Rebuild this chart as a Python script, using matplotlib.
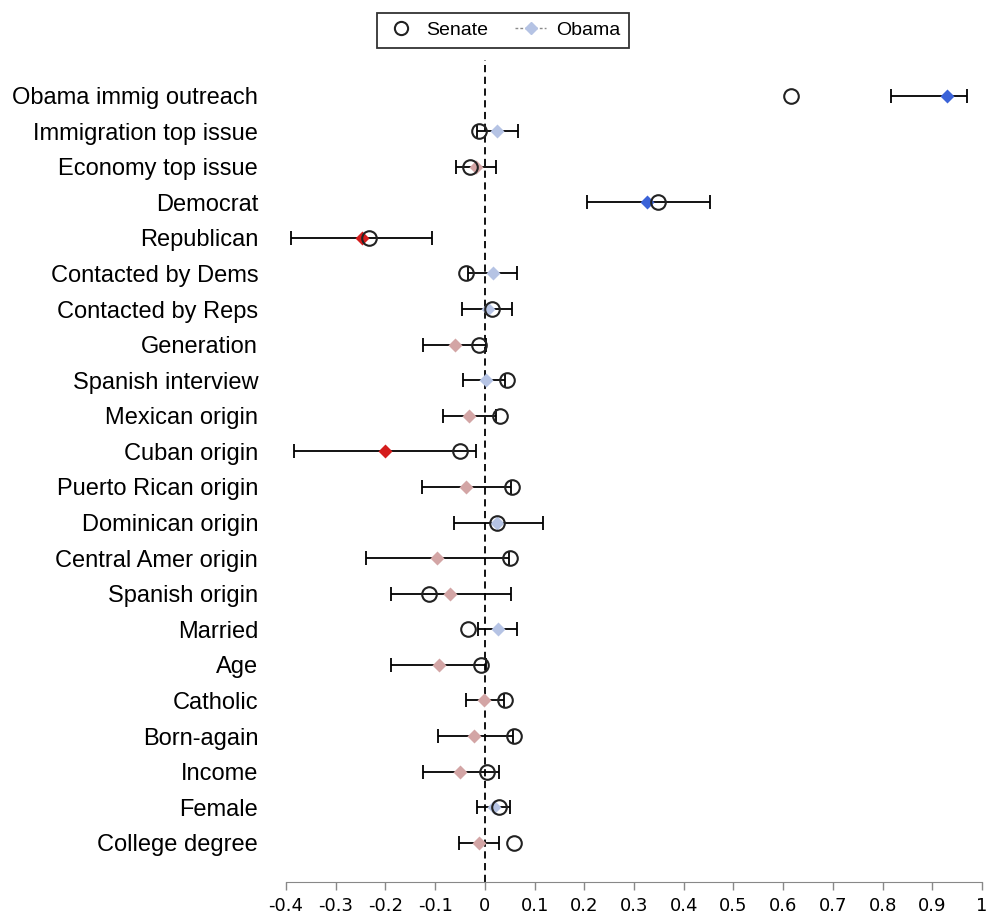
import numpy as np
import matplotlib
matplotlib.use('Agg')
import matplotlib.pyplot as plt
from matplotlib.lines import Line2D

labels = ['Obama immig outreach', 'Immigration top issue', 'Economy top issue',
          'Democrat', 'Republican', 'Contacted by Dems', 'Contacted by Reps',
          'Generation', 'Spanish interview', 'Mexican origin', 'Cuban origin',
          'Puerto Rican origin', 'Dominican origin', 'Central Amer origin',
          'Spanish origin', 'Married', 'Age', 'Catholic', 'Born-again',
          'Income', 'Female', 'College degree']

senate = [0.615, -0.012, -0.030, 0.349, -0.234, -0.038, 0.014, -0.012, 0.044,
          0.030, -0.050, 0.054, 0.024, 0.050, -0.112, -0.034, -0.008, 0.040,
          0.058, 0.004, 0.028, 0.058]

obama = [0.930, 0.024, -0.018, 0.327, -0.248, 0.016, 0.006, -0.060, 0.002,
         -0.032, -0.200, -0.038, 0.024, -0.096, -0.070, 0.026, -0.092, -0.002,
         -0.022, -0.050, 0.018, -0.012]

obama_lo = [0.816, -0.016, -0.058, 0.206, -0.390, -0.034, -0.046, -0.124, -0.044,
            -0.084, -0.383, -0.126, -0.062, -0.240, -0.188, -0.014, -0.188, -0.038,
            -0.094, -0.124, -0.016, -0.052]

obama_hi = [0.970, 0.066, 0.022, 0.452, -0.106, 0.064, 0.054, 0.002, 0.040,
            0.022, -0.018, 0.052, 0.116, 0.048, 0.052, 0.064, 0.002, 0.038,
            0.056, 0.028, 0.050, 0.028]

senate = np.array(senate)
obama = np.array(obama)
lo = np.array(obama_lo)
hi = np.array(obama_hi)
y = np.arange(len(labels))

def diamond_color(v, l, h):
    sig = l > 0 or h < 0
    if v >= 0:
        return '#3b63d8' if sig else '#b5c3e4'
    return '#d41c1c' if sig else '#d3a5a5'

fig = plt.figure(figsize=(9.88, 9.17), dpi=100)
ax = fig.add_axes([0.2895, 0.0382, 0.7045, 0.8964])

ax.axvline(0, color='black', lw=1.3, ls=(0, (4, 2.5)), zorder=1)

ax.errorbar(obama, y, xerr=[obama - lo, hi - obama], fmt='none',
            ecolor='black', elinewidth=1.3, capsize=5, capthick=1.3, zorder=2)
for i in range(len(labels)):
    ax.plot(obama[i], y[i], marker='D', markersize=7.5, ls='none',
            color=diamond_color(obama[i], lo[i], hi[i]), mec='none', zorder=3)
ax.plot(senate, y, 'o', mfc='none', mec='#222222', mew=1.5, markersize=10.5, zorder=4)

ax.set_ylim(len(labels) - 1 + 1.1, -1.0)
ax.set_xlim(-0.4, 1.0)
ax.set_yticks(y)
ax.set_yticklabels(labels, fontsize=17, family='Liberation Sans')
ax.tick_params(axis='y', length=0, pad=20)
ax.set_xticks(np.round(np.arange(-0.4, 1.01, 0.1), 1))
ax.set_xticklabels(['-0.4', '-0.3', '-0.2', '-0.1', '0', '0.1', '0.2', '0.3', '0.4',
                    '0.5', '0.6', '0.7', '0.8', '0.9', '1'], fontsize=13,
                   family='DejaVu Sans')
ax.tick_params(axis='x', length=6, color='#888888', width=1, pad=5)

for side in ['top', 'right', 'left']:
    ax.spines[side].set_visible(False)
ax.spines['bottom'].set_color('#888888')

handles = [Line2D([], [], marker='o', ls='none', mfc='none', mec='#222222', mew=1.5, markersize=9.5),
           Line2D([], [], marker='D', color='#8a8a8a', lw=1, ls=(0, (2, 1.5)),
                  mfc='#b5c3e4', mec='#b5c3e4', markersize=6)]
leg = fig.legend(handles, ['Senate', 'Obama'], loc='center', bbox_to_anchor=(0.509, 0.967),
                 ncol=2, frameon=True, fancybox=False, edgecolor='black',
                 prop={'family': 'Liberation Sans', 'size': 14}, handlelength=1.6,
                 columnspacing=1.4, handletextpad=0.5, borderpad=0.45)
leg.get_frame().set_linewidth(1.3)

fig.savefig('out.png', dpi=100)
